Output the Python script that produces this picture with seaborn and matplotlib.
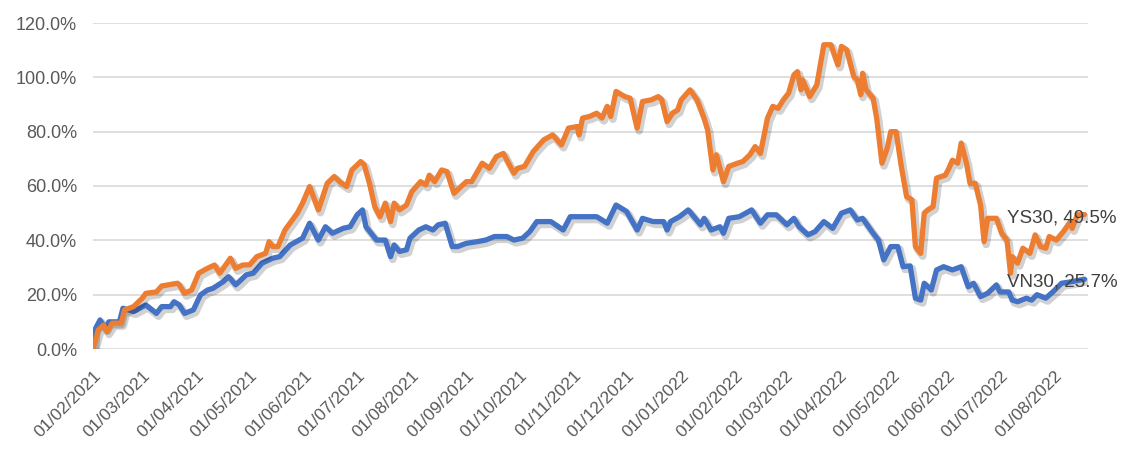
import matplotlib
matplotlib.use("Agg")
import matplotlib.pyplot as plt
import matplotlib.dates as mdates
import matplotlib.patheffects as pe
from matplotlib.ticker import PercentFormatter
import pandas as pd
import seaborn as sns

# ---------------- data (cumulative return, %) ----------------
ys30_dates = [
    "2021-02-01", "2021-02-04", "2021-02-07", "2021-02-09", "2021-02-12", "2021-02-17", "2021-02-19", "2021-02-24",
    "2021-03-01", "2021-03-03", "2021-03-09", "2021-03-12", "2021-03-21", "2021-03-22", "2021-03-25", "2021-03-29",
    "2021-04-02", "2021-04-07", "2021-04-11", "2021-04-14", "2021-04-20", "2021-04-23", "2021-04-27",
    "2021-05-01", "2021-05-05", "2021-05-10", "2021-05-12", "2021-05-14", "2021-05-17", "2021-05-21", "2021-05-28", "2021-05-31",
    "2021-06-04", "2021-06-09", "2021-06-14", "2021-06-18", "2021-06-21", "2021-06-25", "2021-06-28",
    "2021-07-03", "2021-07-05", "2021-07-08", "2021-07-11", "2021-07-14", "2021-07-17", "2021-07-20", "2021-07-22", "2021-07-25", "2021-07-29",
    "2021-08-01", "2021-08-06", "2021-08-09", "2021-08-11", "2021-08-14", "2021-08-18", "2021-08-21", "2021-08-25", "2021-08-27",
    "2021-09-01", "2021-09-04", "2021-09-10", "2021-09-14", "2021-09-18", "2021-09-22", "2021-09-28", "2021-09-30",
    "2021-10-04", "2021-10-09", "2021-10-15", "2021-10-20", "2021-10-25", "2021-10-29",
    "2021-11-03", "2021-11-04", "2021-11-06", "2021-11-10", "2021-11-14", "2021-11-17", "2021-11-20", "2021-11-22", "2021-11-25", "2021-11-30",
    "2021-12-03", "2021-12-07", "2021-12-10", "2021-12-15", "2021-12-19", "2021-12-21", "2021-12-24", "2021-12-27", "2021-12-30",
    "2022-01-01", "2022-01-06", "2022-01-10", "2022-01-14", "2022-01-16", "2022-01-19", "2022-01-21", "2022-01-25", "2022-01-28",
    "2022-02-02", "2022-02-05", "2022-02-09", "2022-02-12", "2022-02-15", "2022-02-19", "2022-02-22", "2022-02-25", "2022-02-28",
    "2022-03-03", "2022-03-06", "2022-03-08", "2022-03-10", "2022-03-11", "2022-03-15", "2022-03-19", "2022-03-23", "2022-03-27", "2022-03-31",
    "2022-04-02", "2022-04-05", "2022-04-09", "2022-04-11", "2022-04-13", "2022-04-14", "2022-04-16", "2022-04-20", "2022-04-22", "2022-04-25", "2022-04-28", "2022-04-30",
    "2022-05-03", "2022-05-06", "2022-05-09", "2022-05-12", "2022-05-14", "2022-05-17", "2022-05-19", "2022-05-21", "2022-05-24", "2022-05-26", "2022-05-31",
    "2022-06-02", "2022-06-04", "2022-06-07", "2022-06-09", "2022-06-12", "2022-06-14", "2022-06-17", "2022-06-20", "2022-06-22", "2022-06-24", "2022-06-29",
    "2022-07-02", "2022-07-05", "2022-07-07", "2022-07-08", "2022-07-11", "2022-07-14", "2022-07-18", "2022-07-21", "2022-07-24", "2022-07-27", "2022-07-29",
    "2022-08-02", "2022-08-06", "2022-08-10", "2022-08-11", "2022-08-14", "2022-08-18",
]
ys30_values = [
    0.0, 7.0, 8.8, 6.4, 9.5, 9.5, 14.4, 15.6,
    18.7, 20.5, 21.0, 23.2, 24.2, 23.6, 20.5, 21.7,
    27.9, 29.7, 30.9, 27.9, 33.4, 29.7, 30.9,
    31.0, 34.0, 35.2, 39.5, 37.7, 37.7, 43.8, 50.0, 53.7,
    59.8, 51.2, 61.0, 63.5, 61.6, 59.8, 65.9,
    69.0, 67.8, 61.0, 52.4, 48.7, 53.7, 46.9, 53.7, 51.2, 53.0,
    57.9, 61.6, 60.4, 64.0, 61.6, 65.9, 65.3, 57.3, 58.6,
    61.6, 61.6, 68.4, 66.5, 70.8, 72.0, 64.7, 66.5,
    67.2, 72.7, 77.0, 78.8, 75.1, 81.3,
    81.9, 78.8, 85.0, 85.6, 86.8, 85.0, 89.3, 85.6, 94.8, 92.9,
    92.3, 81.3, 91.1, 91.7, 92.9, 91.7, 83.7, 86.8, 88.0,
    91.7, 95.4, 91.7, 85.0, 80.7, 65.9, 71.5, 61.6, 67.2,
    68.4, 69.0, 71.5, 74.5, 72.0, 85.0, 89.3, 88.6, 91.7,
    94.2, 100.9, 102.1, 95.4, 99.0, 92.9, 97.2, 112.0, 112.0, 104.6,
    111.4, 110.1, 100.3, 99.0, 93.6, 101.5, 95.4, 92.3, 85.0, 68.4, 73.9, 80.0,
    80.0, 67.2, 56.1, 54.9, 37.7, 35.2, 50.0, 51.2, 52.4, 62.9, 64.0,
    66.5, 69.5, 68.4, 75.8, 68.4, 61.0, 61.0, 53.0, 39.5, 48.1, 48.1,
    42.6, 40.1, 27.9, 34.0, 31.6, 37.1, 35.2, 42.0, 37.7, 37.1, 41.4,
    40.1, 43.2, 46.9, 44.4, 49.4, 49.5,
]

vn30_dates = [
    "2021-02-01", "2021-02-02", "2021-02-05", "2021-02-08", "2021-02-10", "2021-02-16", "2021-02-18", "2021-02-24",
    "2021-03-03", "2021-03-09", "2021-03-12", "2021-03-17", "2021-03-19", "2021-03-22", "2021-03-25", "2021-03-30",
    "2021-04-03", "2021-04-07", "2021-04-10", "2021-04-16", "2021-04-19", "2021-04-23", "2021-04-26", "2021-04-29",
    "2021-05-03", "2021-05-08", "2021-05-14", "2021-05-18", "2021-05-24", "2021-05-31",
    "2021-06-04", "2021-06-09", "2021-06-13", "2021-06-17", "2021-06-23", "2021-06-27",
    "2021-07-01", "2021-07-04", "2021-07-06", "2021-07-12", "2021-07-17", "2021-07-20", "2021-07-22", "2021-07-25", "2021-07-29", "2021-07-31",
    "2021-08-05", "2021-08-09", "2021-08-13", "2021-08-16", "2021-08-20", "2021-08-24", "2021-08-27",
    "2021-09-01", "2021-09-07", "2021-09-12", "2021-09-17", "2021-09-24", "2021-09-28",
    "2021-10-03", "2021-10-07", "2021-10-11", "2021-10-19", "2021-10-26", "2021-10-30",
    "2021-11-06", "2021-11-14", "2021-11-20", "2021-11-25",
    "2021-12-01", "2021-12-07", "2021-12-10", "2021-12-16", "2021-12-22", "2021-12-24", "2021-12-26", "2021-12-31",
    "2022-01-05", "2022-01-09", "2022-01-12", "2022-01-14", "2022-01-18", "2022-01-23", "2022-01-25", "2022-01-28",
    "2022-02-03", "2022-02-10", "2022-02-15", "2022-02-19", "2022-02-24",
    "2022-03-02", "2022-03-06", "2022-03-09", "2022-03-14", "2022-03-18", "2022-03-23", "2022-03-28",
    "2022-04-02", "2022-04-07", "2022-04-11", "2022-04-14", "2022-04-20", "2022-04-23", "2022-04-26", "2022-04-30",
    "2022-05-04", "2022-05-07", "2022-05-11", "2022-05-14", "2022-05-17", "2022-05-19", "2022-05-23", "2022-05-26", "2022-05-30",
    "2022-06-04", "2022-06-09", "2022-06-13", "2022-06-16", "2022-06-20", "2022-06-24", "2022-06-29",
    "2022-07-01", "2022-07-06", "2022-07-08", "2022-07-11", "2022-07-16", "2022-07-19", "2022-07-22", "2022-07-27", "2022-07-31",
    "2022-08-05", "2022-08-11", "2022-08-18",
]
vn30_values = [
    0.0, 7.0, 10.7, 7.6, 10.0, 10.0, 15.0, 13.8,
    16.2, 13.1, 15.6, 15.6, 17.4, 16.2, 13.1, 14.4,
    19.9, 21.7, 22.3, 24.8, 26.6, 23.6, 25.4, 27.3,
    27.9, 31.6, 33.4, 34.0, 38.3, 40.8,
    46.3, 40.1, 45.0, 42.6, 44.4, 45.0,
    49.4, 51.2, 45.0, 40.1, 40.1, 34.0, 38.3, 35.9, 36.5, 40.8,
    43.8, 45.0, 43.8, 45.7, 46.3, 37.7, 37.7,
    38.9, 39.5, 40.1, 41.4, 41.4, 40.1,
    40.8, 43.2, 46.9, 46.9, 43.8, 48.7,
    48.7, 48.7, 46.3, 53.0,
    50.6, 43.8, 48.1, 46.9, 46.9, 43.8, 46.9, 48.7,
    51.2, 48.1, 45.7, 48.1, 43.8, 45.0, 42.6, 48.1,
    48.7, 51.2, 46.3, 49.4, 49.4,
    45.7, 48.1, 45.0, 42.0, 43.2, 46.9, 44.4,
    50.0, 51.2, 47.5, 48.1, 42.6, 40.1, 32.8, 37.7,
    37.7, 30.3, 30.6, 18.7, 18.0, 24.2, 21.7, 29.1, 30.3,
    29.1, 30.3, 22.9, 24.2, 19.3, 20.5, 23.6,
    21.0, 21.0, 18.0, 17.4, 18.7, 18.0, 20.0, 18.7, 21.0,
    24.2, 24.8, 25.7,
]

series_names = ["VN30", "YS30"]
series_colors = {"VN30": "#4472C4", "YS30": "#ED7D31"}
tick_months = pd.date_range("2021-02-01", "2022-08-01", freq="MS")

# ---------------- build long table ----------------
df = pd.concat([
    pd.DataFrame({"date": pd.to_datetime(vn30_dates), "value": vn30_values, "series": "VN30"}),
    pd.DataFrame({"date": pd.to_datetime(ys30_dates), "value": ys30_values, "series": "YS30"}),
], ignore_index=True)

sns.set_theme(style="white")
plt.rcParams["font.family"] = ["Liberation Sans", "DejaVu Sans"]

fig = plt.figure(figsize=(11.25, 4.55), dpi=100)
ax = fig.add_axes([93 / 1125, 1 - 349 / 455, 995 / 1125, 326 / 455])

sns.lineplot(data=df, x="date", y="value", hue="series", hue_order=series_names,
             palette=series_colors, linewidth=3.8, legend=False, ax=ax, estimator=None,
             sort=True)

for line in ax.get_lines():
    line.set_solid_capstyle("round")
    line.set_solid_joinstyle("round")
    line.set_path_effects([
        pe.SimpleLineShadow(offset=(1.5, -2.0), shadow_color="black", alpha=0.18, linewidth=5.5),
        pe.Normal(),
    ])

# axes scales / limits
ax.set_ylim(0, 120)
ax.set_xlim(pd.Timestamp("2021-02-01"), pd.Timestamp("2022-08-20"))
ax.set_yticks(range(0, 121, 20))
ax.yaxis.set_major_formatter(PercentFormatter(xmax=100, decimals=1))
ax.set_xticks(tick_months)
ax.xaxis.set_major_formatter(mdates.DateFormatter("%d/%m/%Y"))

ax.grid(axis="y", color="#D9D9D9", linewidth=1.2)
ax.grid(axis="x", visible=False)
ax.set_axisbelow(True)
for s in ax.spines.values():
    s.set_visible(False)

ax.tick_params(axis="y", length=0, pad=11.5, labelsize=13, labelcolor="#595959")
ax.tick_params(axis="x", length=0, pad=13.5, labelsize=12.5, labelcolor="#595959")
for lab in ax.get_xticklabels():
    lab.set_rotation(45)
    lab.set_ha("right")
    lab.set_va("top")
    lab.set_rotation_mode("anchor")

ax.set_xlabel("")
ax.set_ylabel("")

# end-of-line data labels
for name, dates, vals in [("YS30", ys30_dates, ys30_values), ("VN30", vn30_dates, vn30_values)]:
    ax.annotate(f"{name}, {vals[-1]:.1f}%", xy=(pd.Timestamp(dates[-1]), vals[-1]),
                xytext=(-77, -7.5), textcoords="offset pixels",
                ha="left", va="baseline", fontsize=13.5, color="#404040")

fig.savefig("out.png", dpi=100)
